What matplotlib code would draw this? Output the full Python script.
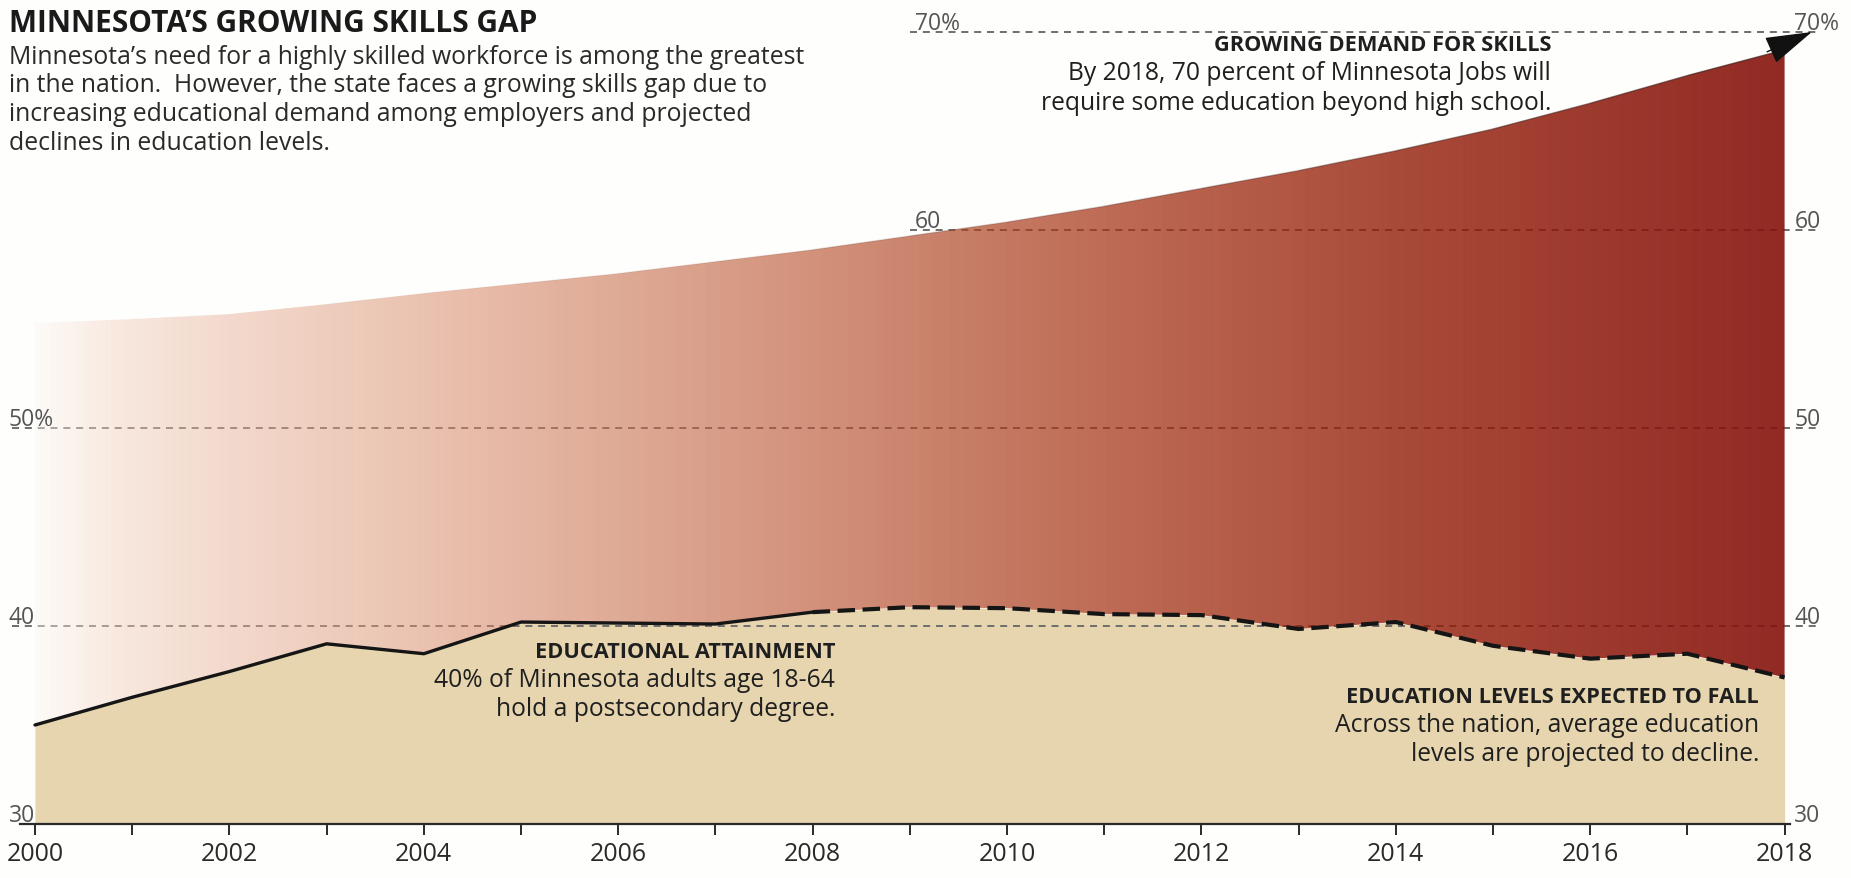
import numpy as np
import matplotlib
matplotlib.use("Agg")
import matplotlib.pyplot as plt
from matplotlib.colors import LinearSegmentedColormap, to_rgb
from matplotlib.collections import LineCollection

# ---------------- data ----------------
years = list(range(2000, 2019))
attainment = [35.0, 36.4, 37.7, 39.1, 38.6, 40.2, 40.15, 40.1, 40.7, 40.95,
              40.9, 40.6, 40.55, 39.85, 40.2, 39.0, 38.35, 38.6, 37.4]
last_actual_year = 2008
demand = [55.3, 55.5, 55.75, 56.25, 56.8, 57.3, 57.8, 58.4, 59.0, 59.7,
          60.4, 61.2, 62.1, 63.0, 64.0, 65.1, 66.4, 67.8, 69.1]
demand_target = 70
grid_full = [40, 50]
grid_right = [60, 70]
left_labels = {50: "50%", 40: "40", 30: "30"}
mid_labels = {70: "70%", 60: "60"}
right_labels = {70: "70%", 60: "60", 50: "50", 40: "40", 30: "30"}
tick_labels = [str(y) if y % 2 == 0 else "" for y in years]

title = "MINNESOTA\u2019S GROWING SKILLS GAP"
intro = ["Minnesota\u2019s need for a highly skilled workforce is among the greatest",
         "in the nation.  However, the state faces a growing skills gap due to",
         "increasing educational demand among employers and projected",
         "declines in education levels."]
demand_note = ["GROWING DEMAND FOR SKILLS",
               "By 2018, 70 percent of Minnesota Jobs will",
               "require some education beyond high school."]
attain_note = ["EDUCATIONAL ATTAINMENT",
               "40% of Minnesota adults age 18-64",
               "hold a postsecondary degree."]
fall_note = ["EDUCATION LEVELS EXPECTED TO FALL",
             "Across the nation, average education",
             "levels are projected to decline."]

# ---------------- style ----------------
W, H = 1851, 879
BG = "#fefefc"
TAN = "#e6d5ae"
plt.rcParams["font.family"] = ["Open Sans", "DejaVu Sans"]

fig = plt.figure(figsize=(W / 100, H / 100), dpi=100, facecolor=BG)
ax = fig.add_axes([0, 0, 1, 1])
ax.set_facecolor(BG)

# pixel geometry of the reference
px_x0, px_per_year = 35.0, 97.2
px_y30, px_per_unit = 825.0, 19.8
X0 = 2000 - px_x0 / px_per_year
X1 = 2000 + (W - px_x0) / px_per_year
Y0 = 30 - (H - px_y30) / px_per_unit
Y1 = 30 + px_y30 / px_per_unit

yrs = np.array(years, dtype=float)
att = np.array(attainment)
dem = np.array(demand)

# tan attainment area
ax.fill_between(yrs, 30, att, color=TAN, lw=0, zorder=1)

# dashed grid lines (under the red gradient so they fade into it)
grid_kw = dict(color="#6e6e6e", lw=1.4, linestyle=(0, (3.6, 3.0)), zorder=2, clip_on=False)
for lv in grid_full:
    ax.plot([1999.76, 2018.36], [lv, lv], **grid_kw)
for lv in grid_right:
    ax.plot([2009.0, 2018.36], [lv, lv], **grid_kw)

# gradient (skills gap) area
N = 700
t = np.linspace(0, 1, N)
stops = [(0.0, "#fdfaf7"), (0.05, "#f8e7dd"), (0.11, "#f3d9cc"), (0.22, "#ebc2b0"),
         (0.33, "#dfab96"), (0.44, "#d3927c"), (0.55, "#c57962"), (0.66, "#b8614c"),
         (0.78, "#a94a39"), (0.89, "#9d392d"), (1.0, "#922a24")]
cmap = LinearSegmentedColormap.from_list("gap", stops)
target = cmap(t)[:, :3]
alpha = 0.42 + 0.48 * t
bgc = np.array(to_rgb(BG))
col = np.clip((target - (1 - alpha)[:, None] * bgc) / alpha[:, None], 0, 1)
rgba = np.concatenate([col, alpha[:, None]], axis=1)[None, :, :]
im = ax.imshow(rgba, extent=[2000, 2018, 30, 72], aspect="auto",
               interpolation="bilinear", zorder=3)
gap = ax.fill_between(yrs, att, dem, facecolor="none", lw=0, zorder=3)
im.set_clip_path(gap.get_paths()[0], transform=ax.transData)

# thin edge along the demand curve, fading in from the left
pts = np.column_stack([yrs, dem])
segs = np.stack([pts[:-1], pts[1:]], axis=1)
edge_alpha = 0.7 * np.linspace(0.0, 1.0, len(segs)) ** 2
edge_cols = [(0.25, 0.12, 0.10, a) for a in edge_alpha]
ax.add_collection(LineCollection(segs, colors=edge_cols, linewidths=1.0, zorder=4))

# arrow head at end of demand curve
ax.annotate("", xy=(years[-1] + 0.28, demand_target), xytext=(years[-1] - 0.18, demand[-1] - 0.1),
            arrowprops=dict(arrowstyle="-|>,head_length=1.5,head_width=0.45",
                            color="#111111", lw=1.0, shrinkA=0, shrinkB=0,
                            mutation_scale=20), zorder=6)

# attainment line: solid actual, dashed projected
k = years.index(last_actual_year)
ax.plot(yrs[:k + 1], att[:k + 1], color="#151515", lw=2.4, solid_joinstyle="round",
        solid_capstyle="round", zorder=5)
ax.plot(yrs[k:], att[k:], color="#151515", lw=3.0, linestyle=(0, (4.2, 1.8)),
        dash_joinstyle="round", zorder=5)

# axes / ticks
ax.set_xlim(X0, X1)
ax.set_ylim(Y0, Y1)
for s in ["left", "right", "top"]:
    ax.spines[s].set_visible(False)
ax.spines["bottom"].set_position(("data", 30))
ax.spines["bottom"].set_bounds(1999.85, 2018.06)
ax.spines["bottom"].set_color("#2a2a2a")
ax.spines["bottom"].set_linewidth(1.6)
ax.spines["bottom"].set_zorder(6)
ax.set_yticks([])
ax.set_xticks(years)
ax.set_xticklabels(tick_labels)
ax.tick_params(axis="x", direction="out", length=8, width=1.4, colors="#2a2a2a",
               labelsize=18, pad=4, labelcolor="#2a2a2a")

# level labels
lab_kw = dict(fontsize=16.5, color="#555555", va="baseline", ha="left", zorder=7)
for lv, s in left_labels.items():
    ax.text(1999.73, lv + 0.15, s, **lab_kw)
for lv, s in mid_labels.items():
    ax.text(2009.05, lv + 0.15, s, **lab_kw)
for lv, s in right_labels.items():
    ax.text(2018.10, lv + 0.15, s, **lab_kw)

# text blocks (positions in reference pixels -> figure fraction)
def ftext(xpx, ypx, s, **kw):
    fig.text(xpx / W, 1 - ypx / H, s, va="baseline", **kw)

ftext(9, 32, title, fontsize=21.5, fontweight="bold", color="#1a1a1a", ha="left")
for i, line in enumerate(intro):
    ftext(9, 63.5 + 28.7 * i, line, fontsize=17.8, color="#2a2a2a", ha="left")

head_fs, body_fs = 15.7, 17.7
for i, line in enumerate(demand_note):
    ftext(1551, 51 + 29.5 * i, line, fontsize=head_fs if i == 0 else body_fs,
          fontweight="bold" if i == 0 else "normal", color="#1f1f1f", ha="right")
for i, line in enumerate(attain_note):
    ftext(835, 658 + 29.2 * i, line, fontsize=head_fs if i == 0 else body_fs,
          fontweight="bold" if i == 0 else "normal", color="#1f1f1f", ha="right", zorder=8)
for i, line in enumerate(fall_note):
    ftext(1759, 703 + 29.2 * i, line, fontsize=head_fs if i == 0 else body_fs,
          fontweight="bold" if i == 0 else "normal", color="#1f1f1f", ha="right", zorder=8)

fig.savefig("out.png", dpi=100, facecolor=BG)
